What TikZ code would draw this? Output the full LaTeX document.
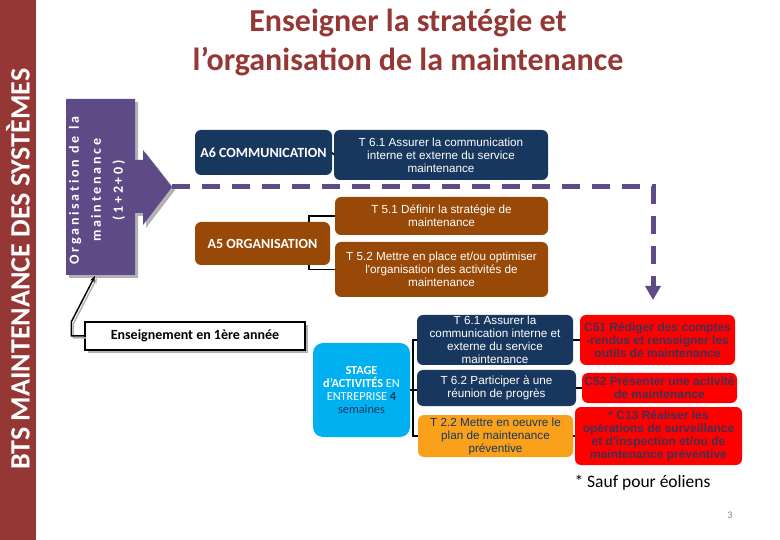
\documentclass[tikz,border=0pt]{standalone}
\usepackage{fontspec}
\setmainfont{Carlito}
\newfontfamily\ari{Liberation Sans}
\def\lsp#1{\lspA#1\relax}
\def\lspA#1{\ifx#1\relax\else#1\kern2.7pt\expandafter\lspA\fi}
\usetikzlibrary{arrows.meta,backgrounds,shadows}
\definecolor{barc}{HTML}{953735}
\definecolor{purc}{HTML}{5E4A87}
\definecolor{navyc}{HTML}{17375E}
\definecolor{brownc}{HTML}{984807}
\definecolor{bluec}{HTML}{00B0F0}
\definecolor{orangec}{HTML}{F9A11B}
\definecolor{redc}{HTML}{FF0000}
\definecolor{ctext}{HTML}{403152}
\tikzset{
  rbox/.style={rounded corners=6pt, inner sep=0pt, align=center},
  navybox/.style={rbox, fill=navyc, text=white, font=\ari\fontsize{11.7}{13}\selectfont},
  brownbox/.style={rbox, fill=brownc, text=white, font=\ari\fontsize{11.7}{13}\selectfont},
  orangebox/.style={rbox, fill=orangec, text=navyc, font=\ari\fontsize{11.7}{13}\selectfont},
  redbox/.style={rbox, fill=redc, text=ctext, font=\ari\bfseries\fontsize{12}{13.2}\selectfont},
  actbox/.style={rbox, text=white, font=\bfseries\fontsize{14}{15}\selectfont},
  link/.style={draw=black, line width=1.5pt},
}
\begin{document}
\begin{tikzpicture}[x=1pt,y=-1pt]
\useasboundingbox (0,0) rectangle (780,540);
% left bar
\fill[barc] (0,0) rectangle (36,540);
\node[rotate=90, text=white, font=\bfseries\fontsize{28}{28}\selectfont] (bts) at (18,269) {BTS MAINTENANCE DES SYSTÈMES};
% title
\node[text=barc, font=\bfseries\fontsize{32}{34}\selectfont] (t1) at (408,23) {Enseigner la stratégie et};
\node[text=barc, font=\bfseries\fontsize{32}{34}\selectfont] (t2) at (408,62) {l’organisation de la maintenance};
% purple arrow shape
\fill[gray!60] (69,102) -- (138,102) -- (138,163) -- (146,163) -- (146,153) -- (175,190) -- (146,228) -- (146,216) -- (138,216) -- (138,278) -- (69,278) -- cycle;
\fill[purc] (66,99) -- (135,99) -- (135,160) -- (143,160) -- (143,150) -- (172,187) -- (143,225) -- (143,213) -- (135,213) -- (135,275) -- (66,275) -- cycle;
\node[rotate=90, text=white, align=center, font=\bfseries\fontsize{14}{22}\selectfont] (orgtxt) at (97,189)
  {\lsp{Organisation}\hspace{4pt}\lsp{de}\hspace{4pt}\lsp{la}\\\lsp{maintenance}\\\lsp{(1+2+0)}};
\coordinate (orgtip) at (172,187);
\coordinate (orgbot) at (95,276);
% activity boxes
\node[actbox, fill=navyc, minimum width=137, minimum height=45] (a6) at (263.5,152.5) {A6 COMMUNICATION};
\node[navybox, minimum width=214, minimum height=50] (t61a) at (441,155) {T 6.1 Assurer la communication\\interne et externe du service\\maintenance};
\node[actbox, fill=brownc, minimum width=135, minimum height=43] (a5) at (262.5,243.5) {A5 ORGANISATION};
\node[brownbox, minimum width=213, minimum height=38] (t51) at (441.5,216) {T 5.1 Définir la stratégie de\\maintenance};
\node[brownbox, minimum width=213, minimum height=55] (t52) at (441.5,269.5) {T 5.2 Mettre en place et/ou optimiser\\l'organisation des activités de\\maintenance};
% first-year box
\node[draw=black, line width=1.5pt, fill=white, minimum width=220, minimum height=28, inner sep=0pt,
      drop shadow={shadow xshift=3pt, shadow yshift=-3pt, fill=gray!60, opacity=1},
      font=\bfseries\fontsize{14}{16}\selectfont] (ens) at (195,336) {Enseignement en 1ère année};
% stage box
\node[rbox, rounded corners=10pt, fill=bluec, text=white, minimum width=97, minimum height=94,
      font=\fontsize{12.3}{12.8}\selectfont] (stage) at (361.5,390)
      {\textbf{STAGE}\\\textbf{d'ACTIVITÉS} EN\\ENTREPRISE \textcolor{navyc}{\textbf{4}}\\\textcolor{navyc}{semaines}};
\node[navybox, minimum width=156, minimum height=50] (t61b) at (495,340) {T 6.1 Assurer la\\communication interne et\\externe du service\\maintenance};
\node[navybox, minimum width=159, minimum height=36] (t62) at (496.5,388) {T 6.2 Participer à une\\réunion de progrès};
\node[orangebox, minimum width=155, minimum height=42] (t22) at (495.5,436) {T 2.2 Mettre en oeuvre le\\plan de maintenance\\préventive};
\node[redbox, minimum width=155, minimum height=50] (c51) at (657.5,340) {C51 Rédiger des comptes\\-rendus et renseigner les\\outils de maintenance};
\node[redbox, minimum width=155, minimum height=30] (c52) at (659.5,388) {C52 Présenter une activité\\de maintenance};
\node[redbox, minimum width=167, minimum height=58] (c13) at (658.5,436) {* C13 Réaliser les\\opérations de surveillance\\et d'inspection et/ou de\\maintenance préventive};
% connectors
\begin{scope}[on background layer]
\draw[link] (a6.east) -- (t61a.west);
\draw[link] (t51.west) -| ([xshift=-21pt]a5.east) |- (t52.west);
\draw[link] (t61b.west) -| ([xshift=3pt]stage.east) |- (t22.west);
\draw[link] (stage.east) -- (stage.east -| t62.west);
\draw[link] (t61b.east) -- (c51.west);
\draw[link] (t62.east) -- (c52.west);
\draw[link] (t22.east) -- (c13.west);
\end{scope}
% first-year arrow
\draw[gray!60, line width=1.5pt, -{Stealth[length=6pt]}] ([shift={(2,2)}]ens.west) -- ++(-13,0) -- ++(0,-14) -- ([shift={(2,2)}]orgbot);
\draw[link, -{Stealth[length=6pt]}] (ens.west) -- ++(-13,0) -- ++(0,-14) -- (orgbot);
% dashed purple arrow
\coordinate (dturn) at (653,187);
\coordinate (dend) at (653,300);
\draw[purc, line width=5pt, dash pattern=on 18pt off 12pt, -{Triangle[length=14pt,width=15pt]}] (orgtip) -- (dturn) -- (dend);
% footnote and page number
\node[anchor=west, font=\fontsize{17.5}{19}\selectfont] (fn) at (571,483) {* Sauf pour éoliens};
\node[text=gray, font=\fontsize{10}{12}\selectfont] (pg) at (730,515) {3};
\end{tikzpicture}
\end{document}
